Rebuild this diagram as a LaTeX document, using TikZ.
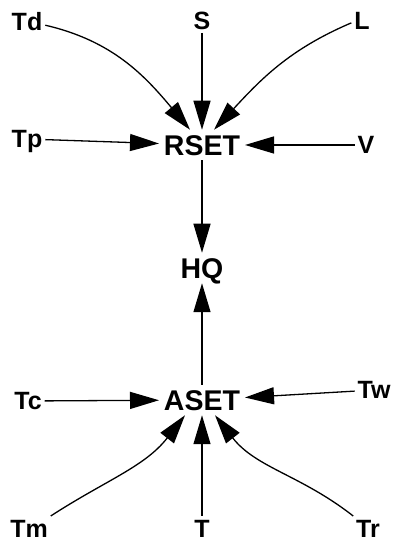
\documentclass[tikz,border=0pt]{standalone}
\usepackage{fontspec}
\setmainfont{Liberation Sans}
\usetikzlibrary{arrows.meta}
\begin{document}
\begin{tikzpicture}[x=1pt, y=1pt,
        lbl/.style={font=\fontsize{25}{26}\selectfont\bfseries, inner sep=2pt, outer sep=1pt, text height=18pt, text depth=0pt},
        hub/.style={font=\fontsize{28.5}{29}\selectfont\bfseries, inner sep=2pt, outer sep=3pt, text height=20.5pt, text depth=0pt},
        arr/.style={-{Triangle[length=29pt,width=17pt]}, line width=1.3pt}]
        \useasboundingbox (0,0) rectangle (395,545);

        \node (RSET) at (202,400) [hub] {RSET};
        \node (HQ) at (202,277) [hub] {HQ};
        \node (ASET) at (202,145) [hub] {ASET};

        \node (Td) at (27,523) [lbl] {Td}; % top row
        \node (S) at (202,524) [lbl] {S};
        \node (L) at (362,524) [lbl] {L};
        \node (Tp) at (27,406) [lbl] {Tp};
        \node (V) at (366,400) [lbl] {V};

        \node (Tc) at (28,144) [lbl] {Tc};
        \node (Tw) at (374,155) [lbl] {Tw};
        \node (Tm) at (29,17) [lbl] {Tm}; % bottom row
        \node (T) at (202,17) [lbl] {T};
        \node (Tr) at (368,17) [lbl] {Tr};

        \draw[arr] (Td.-10) to[out=-13, in=130] ([xshift=-12pt]RSET.north);
        \draw[arr] (S) -- (RSET);
        \draw[arr] (L.190) to[out=203, in=47] ([xshift=12pt]RSET.north);
        \draw[arr] (Tp) -- (RSET);
        \draw[arr] (V) -- (RSET);
        \draw[arr] (RSET) -- (HQ);

        \draw[arr] (ASET) -- (HQ);
        \draw[arr] (Tc) -- (ASET);
        \draw[arr] (Tw) -- (ASET);
        \draw[arr] (Tm.north east) to[out=33, in=232] ([xshift=-17pt]ASET.south);
        \draw[arr] (T) -- (ASET);
        \draw[arr] (Tr.north west) to[out=142, in=-52] ([xshift=13pt]ASET.south);
\end{tikzpicture}
\end{document}
